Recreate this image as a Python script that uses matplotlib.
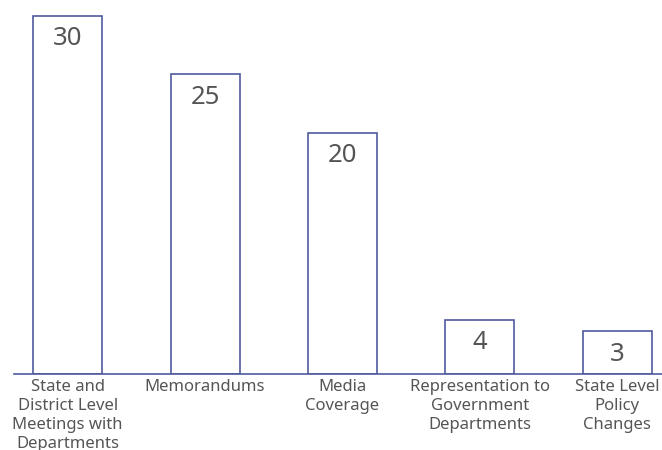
import matplotlib
matplotlib.use('Agg')
import matplotlib.pyplot as plt

categories = [
    "State and\nDistrict Level\nMeetings with\nDepartments",
    "Memorandums",
    "Media\nCoverage",
    "Representation to\nGovernment\nDepartments",
    "State Level\nPolicy\nChanges",
]
values = [30, 25, 20, 4, 3]

edge = '#4f5a9e'
text_grey = '#555555'
base = -0.65  # bars sit on a baseline slightly below zero

plt.rcParams['font.family'] = ['Noto Sans', 'DejaVu Sans']

fig = plt.figure(figsize=(6.62, 4.5), dpi=100)
ax = fig.add_axes([14 / 662, 76 / 450, 648 / 662, 374 / 450])

x = list(range(len(values)))
heights = [v - base for v in values]
ax.bar(x, heights, bottom=base, width=0.502, facecolor='white',
       edgecolor=edge, linewidth=1.2, zorder=2)

for xi, v in zip(x, values):
    ax.annotate(str(v), (xi, v), xytext=(0, -7.5), textcoords='offset points',
                ha='center', va='top', fontsize=18.5, color=text_grey)

ax.set_xlim(-0.391, 4.326)
ax.set_ylim(base, 31.37)

ax.set_xticks(x)
ax.set_xticklabels(categories, fontsize=12, color=text_grey, linespacing=1.25)
ax.tick_params(axis='x', length=0, pad=3.5)
ax.set_yticks([])

for side in ['top', 'right', 'left']:
    ax.spines[side].set_visible(False)
ax.spines['bottom'].set_color(edge)
ax.spines['bottom'].set_linewidth(1.2)

fig.savefig('out.png', dpi=100)
